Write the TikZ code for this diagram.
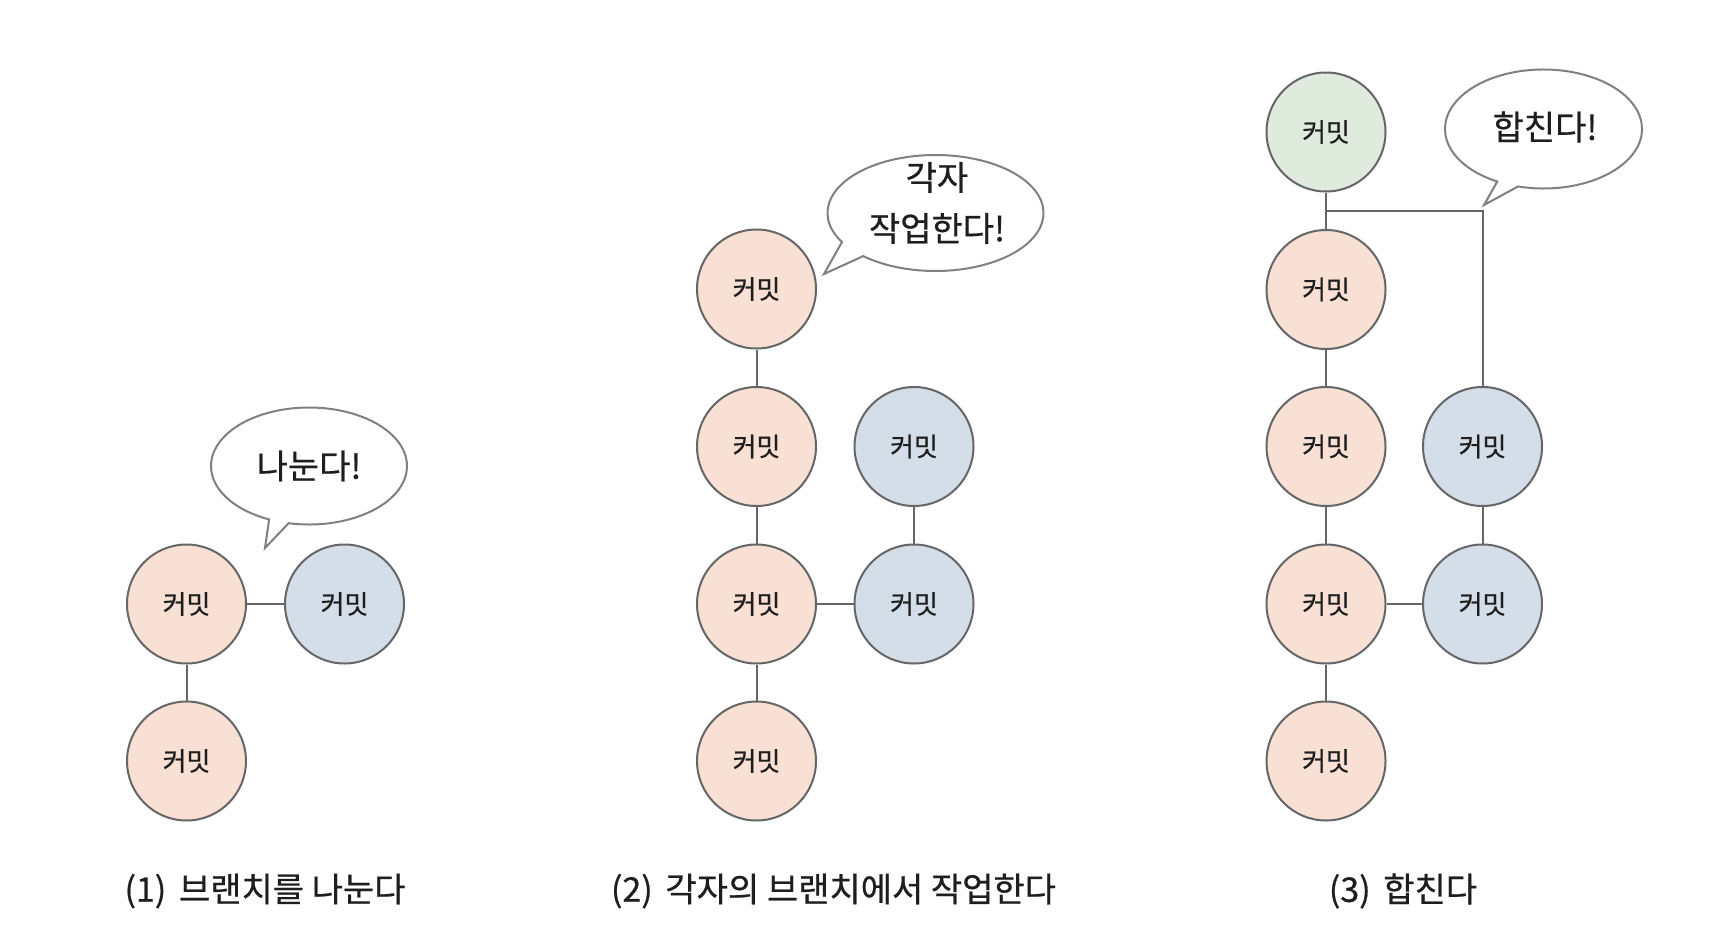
\documentclass[tikz,border=0pt]{standalone}
\usepackage{fontspec}
\setmainfont{Noto Sans CJK KR}[FakeBold=0.6]
\usetikzlibrary{calc}
\definecolor{pinkc}{HTML}{F8E0D5}
\definecolor{bluec}{HTML}{D3DEE8}
\definecolor{greenc}{HTML}{DEEBDD}
\definecolor{edgec}{HTML}{666666}
\definecolor{bubc}{HTML}{808080}
\definecolor{txtc}{HTML}{1E1E1E}
\begin{document}
\begin{tikzpicture}[x=1pt,y=-1pt,
  commit/.style={circle,draw=edgec,line width=2pt,minimum size=119pt,inner sep=0pt,
    font=\fontsize{26}{30}\selectfont,text=txtc},
  pk/.style={commit,fill=pinkc},
  bl/.style={commit,fill=bluec},
  gr/.style={commit,fill=greenc},
  link/.style={draw=edgec,line width=2pt},
  bubble/.style={draw=bubc,line width=2pt,fill=white,line join=miter},
  captxt/.style={font=\fontsize{34}{40}\selectfont,text=txtc},
  saytxt/.style={font=\fontsize{34}{51}\selectfont,text=txtc,align=center}]
\useasboundingbox (0,0) rectangle (1719,945);
\fill[white] (0,0) rectangle (1719,945);

% ---------- panel 1 ----------
\draw[bubble] ($(309,466)+(114:98 and 58.5)$)
  arc[start angle=114,end angle=462,x radius=98,y radius=58.5] -- (265,548) -- cycle;
\node[saytxt] (s1) at (309,466) {나눈다!};
\node[pk] (a1) at (186.5,604) {커밋};
\node[bl] (a2) at (344.5,604) {커밋};
\node[pk] (a3) at (186.5,761) {커밋};
\draw[link] (a1) -- (a2);
\draw[link] (a1) -- (a3);
\node[captxt] (c1) at (265,891) {(1)\hspace{5pt} 브랜치를 나눈다};

% ---------- panel 2 ----------
\draw[bubble] ($(935.5,213)+(150:108 and 58)$)
  arc[start angle=150,end angle=492,x radius=108,y radius=58] -- (824,274) -- cycle;
\node[saytxt] (s2) at (937,203) {각자\\작업한다!};
\node[pk] (b1) at (756.5,289) {커밋};
\node[pk] (b2) at (756.5,446.5) {커밋};
\node[pk] (b3) at (756.5,604) {커밋};
\node[pk] (b4) at (756.5,761) {커밋};
\node[bl] (b5) at (914,446.5) {커밋};
\node[bl] (b6) at (914,604) {커밋};
\draw[link] (b1) -- (b2);
\draw[link] (b2) -- (b3);
\draw[link] (b3) -- (b4);
\draw[link] (b5) -- (b6);
\draw[link] (b3) -- (b6);
\node[captxt] (c2) at (833.5,891) {(2)\hspace{5pt} 각자의 브랜치에서 작업한다};

% ---------- panel 3 ----------
\draw[bubble] ($(1543.5,129)+(118:98.5 and 59.5)$)
  arc[start angle=118,end angle=465,x radius=98.5,y radius=59.5] -- (1484,205) -- cycle;
\node[saytxt] (s3) at (1545,127) {합친다!};
\node[gr] (d0) at (1326,132) {커밋};
\node[pk] (d1) at (1326,289.5) {커밋};
\node[pk] (d2) at (1326,446.5) {커밋};
\node[pk] (d3) at (1326,604) {커밋};
\node[pk] (d4) at (1326,761) {커밋};
\node[bl] (d5) at (1482.5,446.5) {커밋};
\node[bl] (d6) at (1482.5,604) {커밋};
\draw[link] (d0) -- (d1);
\draw[link] (d1) -- (d2);
\draw[link] (d2) -- (d3);
\draw[link] (d3) -- (d4);
\draw[link] (d5) -- (d6);
\draw[link] (d3) -- (d6);
\coordinate (m) at ($(d0.south)!0.5!(d1.north)$);
\draw[link] (m) -| (d5);
\node[captxt] (c3) at (1403,891) {(3)\hspace{5pt} 합친다};
\end{tikzpicture}
\end{document}
